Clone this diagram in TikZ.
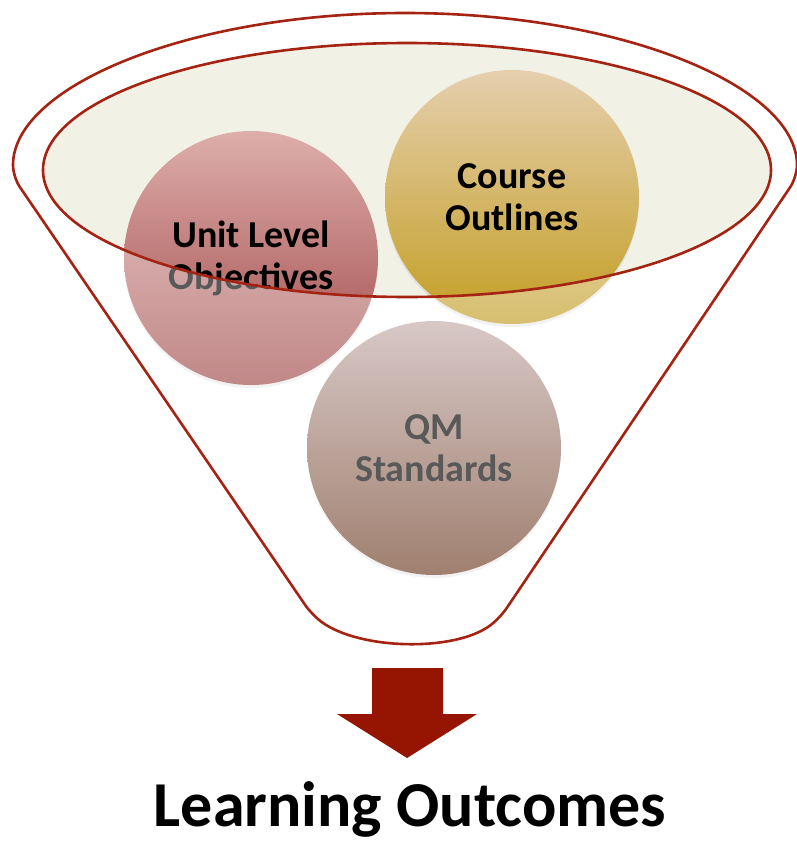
\documentclass[tikz,border=0pt]{standalone}
\usepackage{fontspec}
\setmainfont{Carlito}
\usetikzlibrary{positioning}
\usetikzlibrary{shadows}
\definecolor{funnelred}{HTML}{A52312}
\definecolor{rimcream}{HTML}{F2F1E6}
\definecolor{arrowred}{HTML}{951500}

\begin{document}
\begin{tikzpicture}[x=1pt,y=-1pt,
			roundnode/.style={circle, minimum size=254pt, inner sep=0pt, align=center, font=\fontsize{38}{42}\selectfont\bfseries, drop shadow={opacity=0.15, shadow xshift=0pt, shadow yshift=-3pt}},
			rimline/.style={draw=funnelred, line width=2.6pt},
			]
			\useasboundingbox (0,0) rectangle (796,843);
			\coordinate (rimc) at (407,170);
			\fill[rimcream] (rimc) ellipse [x radius=364, y radius=127];
			
			%Nodes
			\node[roundnode, top color={rgb,255:red,221;green,174;blue,171}, bottom color={rgb,255:red,160;green,72;blue,72}]      (unit)      at 	(251,258)	{Unit Level\\Objectives};
			\node[roundnode, top color={rgb,255:red,229;green,207;blue,174}, bottom color={rgb,255:red,195;green,158;blue,35}]      (course)    at 	(512,197)	{Course\\Outlines};
			\node[roundnode, top color={rgb,255:red,195;green,171;blue,168}, bottom color={rgb,255:red,109;green,60;blue,35}]      (qm)        at 	(434,448)	{QM\\Standards};
			
			%Veil outside the rim
			\fill[white, opacity=0.35, even odd rule] (0,0) rectangle (796,843) (rimc) ellipse [x radius=364, y radius=127];
			
			%Lines
			\draw[rimline] (rimc) ellipse [x radius=364, y radius=127];
			\draw[rimline, rounded corners=12pt] (797,177) arc [start angle=0, end angle=-180, x radius=392, y radius=164] -- (312,615) .. controls (360,650) and (455,652) .. (500,618) -- cycle;
			
			%Arrow
			\coordinate (atop) at (407,668);
			\fill[arrowred] (atop) ++(-35,0) -- ++(71,0) -- ++(0,46) -- ++(34,0) -- (407,758) -- (337,714) -- ++(35,0) -- cycle;
			\node[font=\fontsize{64}{76}\selectfont\bfseries, anchor=base, inner sep=0pt] (lo) at (410,826) {Learning Outcomes};
		\end{tikzpicture}
\end{document}
